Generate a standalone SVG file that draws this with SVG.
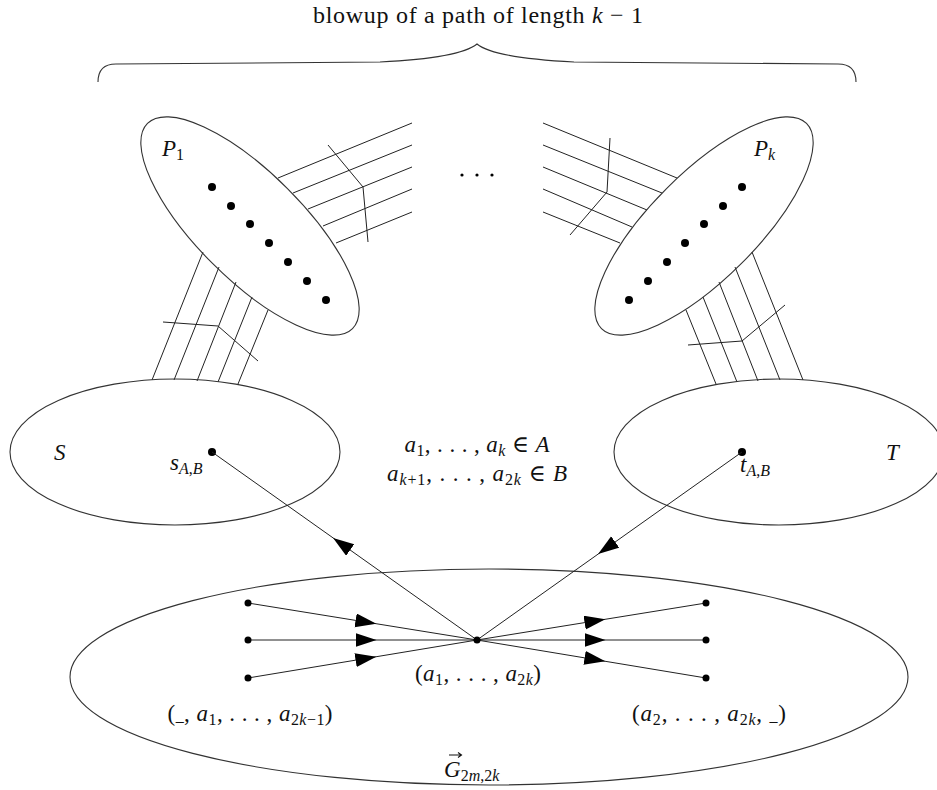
<svg xmlns="http://www.w3.org/2000/svg" width="937" height="790" viewBox="0 0 937 790">
<style>
.t{font-family:"Liberation Serif","DejaVu Serif",serif;font-size:23px;fill:#111}
.i{font-style:italic}
.s{font-size:16px}
.ln{stroke:#222;stroke-width:1;fill:none}
.el{stroke:#333;stroke-width:1.1;fill:none}
.d{fill:#000}
</style>
<defs>
<marker id="ah" markerUnits="userSpaceOnUse" markerWidth="22" markerHeight="16" refX="7" refY="7" orient="auto">
<path d="M0,0 L21,7 L0,14 z" fill="#000"/>
</marker>
</defs>
<rect width="937" height="790" fill="#fff"/>

<g id="brace">
<path class="el" d="M98,82 Q98,64 116,64 L380,62 Q460,58 477,44 Q494,58 574,62 L838,64 Q856,64 856,82"/>
<text class="t" x="478" y="23" text-anchor="middle" font-size="24" textLength="330" lengthAdjust="spacing" style="font-size:24px">blowup of a path of length <tspan class="i">k</tspan> − 1</text>
</g>

<g id="bundles">
<g id="p1-s">
<line class="ln" x1="203" y1="252" x2="152" y2="380"/>
<line class="ln" x1="219" y1="267" x2="174" y2="380"/>
<line class="ln" x1="236" y1="282" x2="197" y2="381"/>
<line class="ln" x1="252" y1="297" x2="218" y2="382"/>
<line class="ln" x1="268" y1="310" x2="238" y2="384"/>
<polyline class="ln" points="163,322 218,326 258,361"/>
</g>
<g id="p1-right">
<line class="ln" x1="278" y1="178" x2="412" y2="123"/>
<line class="ln" x1="293" y1="193" x2="412" y2="145"/>
<line class="ln" x1="308" y1="209" x2="412" y2="167"/>
<line class="ln" x1="323" y1="226" x2="412" y2="189"/>
<line class="ln" x1="336" y1="243" x2="412" y2="212"/>
<polyline class="ln" points="328,145 363,187 368,242"/>
</g>
<g id="pk-left">
<line class="ln" x1="543" y1="123" x2="677" y2="178"/>
<line class="ln" x1="543" y1="145" x2="662" y2="193"/>
<line class="ln" x1="543" y1="167" x2="647" y2="210"/>
<line class="ln" x1="543" y1="189" x2="632" y2="227"/>
<line class="ln" x1="543" y1="212" x2="620" y2="243"/>
<polyline class="ln" points="610,138 607,192 570,235"/>
</g>
<g id="pk-t">
<line class="ln" x1="752" y1="252" x2="803" y2="380"/>
<line class="ln" x1="735" y1="267" x2="780" y2="380"/>
<line class="ln" x1="719" y1="282" x2="758" y2="381"/>
<line class="ln" x1="703" y1="297" x2="737" y2="382"/>
<line class="ln" x1="686" y1="310" x2="716" y2="384"/>
<polyline class="ln" points="688,345 742,341 785,305"/>
</g>
</g>

<g id="dots-ellipsis">
<circle class="d" cx="462" cy="175" r="1.6"/>
<circle class="d" cx="477" cy="175" r="1.6"/>
<circle class="d" cx="492" cy="175" r="1.6"/>
</g>

<g id="P1">
<ellipse class="el" cx="250" cy="226" rx="145" ry="53" transform="rotate(45 250 226)" fill="#fff"/>
<circle class="d" cx="212" cy="187" r="4"/>
<circle class="d" cx="231" cy="206" r="4"/>
<circle class="d" cx="250" cy="224" r="4"/>
<circle class="d" cx="269" cy="243" r="4"/>
<circle class="d" cx="288" cy="262" r="4"/>
<circle class="d" cx="307" cy="281" r="4"/>
<circle class="d" cx="326" cy="300" r="4"/>
<text class="t" x="162" y="156"><tspan class="i">P</tspan><tspan class="s" dy="4">1</tspan></text>
</g>

<g id="Pk">
<ellipse class="el" cx="704" cy="226" rx="145" ry="53" transform="rotate(-45 704 226)" fill="#fff"/>
<circle class="d" cx="742" cy="187" r="4"/>
<circle class="d" cx="723" cy="206" r="4"/>
<circle class="d" cx="704" cy="224" r="4"/>
<circle class="d" cx="685" cy="243" r="4"/>
<circle class="d" cx="667" cy="262" r="4"/>
<circle class="d" cx="648" cy="281" r="4"/>
<circle class="d" cx="629" cy="300" r="4"/>
<text class="t" x="754" y="156"><tspan class="i">P</tspan><tspan class="s i" dy="4">k</tspan></text>
</g>

<g id="S">
<ellipse class="el" cx="175" cy="452" rx="165" ry="73"/>
<circle class="d" cx="212" cy="452" r="4"/>
<text class="t i" x="54" y="460">S</text>
<text class="t" x="170" y="470"><tspan class="i">s</tspan><tspan class="s" dy="4"><tspan class="i">A</tspan>,<tspan class="i">B</tspan></tspan></text>
</g>

<g id="T">
<ellipse class="el" cx="779" cy="452" rx="165" ry="73"/>
<circle class="d" cx="742" cy="452" r="4"/>
<text class="t i" x="886" y="460">T</text>
<text class="t" x="740" y="472"><tspan class="i">t</tspan><tspan class="s" dy="4"><tspan class="i">A</tspan>,<tspan class="i">B</tspan></tspan></text>
</g>

<g id="middle-text">
<text class="t" x="477" y="452" text-anchor="middle" textLength="145" lengthAdjust="spacing"><tspan class="i">a</tspan><tspan class="s" dy="4">1</tspan><tspan dy="-4">, . . . , </tspan><tspan class="i">a</tspan><tspan class="s i" dy="4">k</tspan><tspan dy="-4"> ∈ </tspan><tspan class="i">A</tspan></text>
<text class="t" x="477" y="481" text-anchor="middle" textLength="180" lengthAdjust="spacing"><tspan class="i">a</tspan><tspan class="s" dy="4"><tspan class="i">k</tspan>+1</tspan><tspan dy="-4">, . . . , </tspan><tspan class="i">a</tspan><tspan class="s" dy="4">2<tspan class="i">k</tspan></tspan><tspan dy="-4"> ∈ </tspan><tspan class="i">B</tspan></text>
</g>

<g id="G">
<ellipse class="el" cx="489" cy="677" rx="419" ry="108"/>
<text class="t" x="444" y="777"><tspan class="i">G</tspan><tspan class="s" dy="4">2<tspan class="i">m</tspan>,2<tspan class="i">k</tspan></tspan></text>
<path d="M449,755 L461,755 M458,752.5 L461.5,755 L458,757.5" stroke="#111" stroke-width="1.1" fill="none"/>
</g>

<g id="connectors">
<path class="ln" d="M477,640 L344.5,546 L212,452" marker-mid="url(#ah)"/>
<path class="ln" d="M742,452 L609.5,546 L477,640" marker-mid="url(#ah)"/>
<path class="ln" d="M248,603 L362.5,621.5 L477,640" marker-mid="url(#ah)"/>
<path class="ln" d="M248,640 L362.5,640 L477,640" marker-mid="url(#ah)"/>
<path class="ln" d="M248,678 L362.5,659 L477,640" marker-mid="url(#ah)"/>
<path class="ln" d="M477,640 L591.5,621.5 L706,603" marker-mid="url(#ah)"/>
<path class="ln" d="M477,640 L591.5,640 L706,640" marker-mid="url(#ah)"/>
<path class="ln" d="M477,640 L591.5,659 L706,678" marker-mid="url(#ah)"/>
</g>

<g id="G-nodes">
<circle class="d" cx="477" cy="640" r="3.5"/>
<circle class="d" cx="248" cy="603" r="3.5"/>
<circle class="d" cx="248" cy="640" r="3.5"/>
<circle class="d" cx="248" cy="678" r="3.5"/>
<circle class="d" cx="706" cy="603" r="3.5"/>
<circle class="d" cx="706" cy="640" r="3.5"/>
<circle class="d" cx="706" cy="678" r="3.5"/>
<text class="t" x="478" y="681" text-anchor="middle" textLength="126" lengthAdjust="spacing">(<tspan class="i">a</tspan><tspan class="s" dy="4">1</tspan><tspan dy="-4">, . . . , </tspan><tspan class="i">a</tspan><tspan class="s" dy="4">2<tspan class="i">k</tspan></tspan><tspan dy="-4">)</tspan></text>
<text class="t" x="250" y="721" text-anchor="middle" textLength="165" lengthAdjust="spacing">(<tspan class="s">_</tspan>, <tspan class="i">a</tspan><tspan class="s" dy="4">1</tspan><tspan dy="-4">, . . . , </tspan><tspan class="i">a</tspan><tspan class="s" dy="4">2<tspan class="i">k</tspan>−1</tspan><tspan dy="-4">)</tspan></text>
<text class="t" x="709" y="721" text-anchor="middle" textLength="154" lengthAdjust="spacing">(<tspan class="i">a</tspan><tspan class="s" dy="4">2</tspan><tspan dy="-4">, . . . , </tspan><tspan class="i">a</tspan><tspan class="s" dy="4">2<tspan class="i">k</tspan></tspan><tspan dy="-4">, </tspan><tspan class="s">_</tspan>)</text>
</g>
</svg>
